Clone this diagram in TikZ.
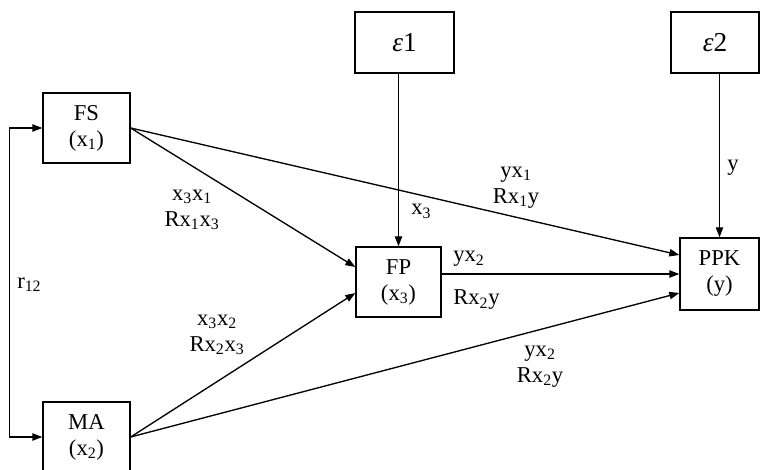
\documentclass[tikz,border=0pt]{standalone}
\usepackage{fontspec}
\setmainfont{Liberation Serif}
\usetikzlibrary{arrows.meta,calc}
\newcommand\lo[1]{\textsubscript{#1}}

\begin{document}
\begin{tikzpicture}[x=0.75pt,y=-0.75pt,
  every node/.style={font=\fontsize{17}{19.5}\selectfont},
  var/.style={draw, line width=1pt, inner sep=0pt, align=center},
  err/.style={var, line width=1.4pt, minimum height=45.75pt, font=\fontsize{20.5}{24}\selectfont},
  lbl/.style={inner sep=0pt, align=center},
  arr/.style={line width=1pt, -{Triangle[length=7.5pt,width=5.5pt]}},
  both/.style={line width=1pt, {Triangle[length=7.5pt,width=5.5pt]}-{Triangle[length=7.5pt,width=5.5pt]}}]

\path[use as bounding box] (0,0) rectangle (760,470);
\clip (0,0) rectangle (760,470);

% variables
\node[var, minimum width=65.25pt, minimum height=52.5pt] (fs) at (86.5,128) {FS\\(x\lo1)};
\node[var, minimum width=65.25pt, minimum height=52.5pt] (ma) at (86.5,437) {MA\\(x\lo2)};
\node[var, minimum width=63.75pt, minimum height=52.5pt] (fp) at (398.5,282) {FP\\(x\lo3)};
\node[var, minimum width=59.25pt, minimum height=54pt] (ppk) at (719.5,274) {PPK\\(y)};

% residual terms
\node[err, minimum width=74.25pt] (e1) at (404.5,42.5) {\textit{ε}1};
\node[err, minimum width=66pt] (e2) at (715,42.5) {\textit{ε}2};

% paths
\draw[arr] (e1.south -| fp.north) -- (fp.north);
\draw[arr] (e2.south -| ppk.north) -- (ppk.north);
\draw[arr] (fs.east) -- ($(fp.west)+(0,-15)$);
\draw[arr] (fs.east) -- ($(ppk.west)+(0,-19)$);
\draw[arr] (fp.east |- ppk.west) -- (ppk.west);
\draw[arr] (ma.east) -- ($(fp.west)+(0,11)$);
\draw[arr] (ma.east) -- ($(ppk.west)+(0,19)$);
\draw[both] (fs.west) -- ++(-33,0) |- (ma.west);

% coefficient labels
\node[lbl] (l31) at (192,208) {\strut x\lo3x\lo1\\\strut Rx\lo1x\lo3};
\node[lbl] (l32) at (217,333) {\strut x\lo3x\lo2\\\strut Rx\lo2x\lo3};
\node[lbl] (ly1) at (516,185) {\strut yx\lo1\\\strut Rx\lo1y};
\node[lbl] (ly2b) at (540,364) {\strut yx\lo2\\\strut Rx\lo2y};
\node[lbl, anchor=base west] (ly2) at (453,262) {yx\lo2};
\node[lbl, anchor=base west] (lr2) at (453,305) {Rx\lo2y};
\node[lbl, anchor=base west] (r12) at (17,288) {r\lo{12}};
\node[lbl, anchor=base west] (lx3) at (411,215) {x\lo3};
\node[lbl, anchor=base west] (lyy) at (727,171) {y};
\end{tikzpicture}
\end{document}
